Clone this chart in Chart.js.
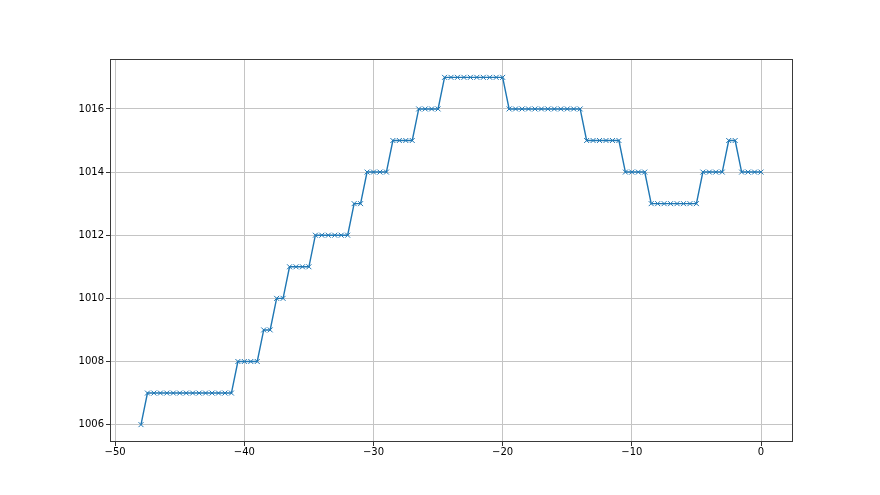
<!DOCTYPE html>
<html>
<head>
<meta charset="utf-8">
<script src="https://cdn.jsdelivr.net/npm/chart.js@4"></script>
<style>
html,body{margin:0;padding:0;background:#fff;}
#wrap{width:880px;height:495px;position:relative;}
</style>
</head>
<body>
<div id="wrap"><canvas id="c" width="880" height="495"></canvas></div>
<script>
// step levels: [first x, last x, value], points every 0.5
const segStart = [-48, -47.5, -40.5, -38.5, -37.5, -36.5, -34.5, -31.5, -30.5, -28.5, -26.5, -24.5, -19.5, -13.5, -10.5, -8.5, -4.5, -2.5, -1.5];
const segEnd   = [-48, -41,   -39,   -38,   -37,   -35,   -32,   -31,   -29,   -27,   -25,   -20,   -14,   -11,   -9,    -5,   -3,   -2,   0];
const segValue = [1006, 1007, 1008, 1009, 1010, 1011, 1012, 1013, 1014, 1015, 1016, 1017, 1016, 1015, 1014, 1013, 1014, 1015, 1014];
const xTicks = [-50, -40, -30, -20, -10, 0];
const yTicks = [1006, 1008, 1010, 1012, 1014, 1016];

const points = [];
for (let i = 0; i < segStart.length; i++) {
  for (let x = segStart[i]; x <= segEnd[i] + 1e-9; x += 0.5) {
    points.push({x: x, y: segValue[i]});
  }
}

const frame = {
  id: 'frame',
  afterDraw(chart) {
    const a = chart.chartArea, ctx = chart.ctx;
    ctx.save();
    ctx.strokeStyle = '#3a3a3a';
    ctx.lineWidth = 1;
    ctx.strokeRect(Math.round(a.left) + 0.5, Math.round(a.top) - 0.5, Math.round(a.right - a.left), Math.round(a.bottom - a.top));
    ctx.restore();
  }
};

new Chart(document.getElementById('c'), {
  type: 'scatter',
  data: {
    datasets: [{
      data: points,
      showLine: true,
      borderColor: '#1f77b4',
      backgroundColor: '#1f77b4',
      borderWidth: 1.4,
      pointStyle: 'crossRot',
      pointRadius: 3.5,
      pointBorderWidth: 1,
      pointBorderColor: '#1f77b4',
      pointHoverRadius: 3.5,
      tension: 0
    }]
  },
  options: {
    responsive: false,
    animation: false,
    devicePixelRatio: 1,
    layout: {padding: {left: 50, top: 60, right: 88, bottom: 23}},
    plugins: {legend: {display: false}, tooltip: {enabled: false}},
    scales: {
      x: {
        type: 'linear', min: -50.4, max: 2.4,
        afterBuildTicks: s => { s.ticks = xTicks.map(v => ({value: v})); },
        afterFit: s => { s.height = 30; },
        grid: {color: '#c4c4c4', lineWidth: 1, tickColor: '#333', tickLength: 4, drawOnChartArea: true},
        border: {display: false},
        ticks: {color: '#000', font: {family: 'DejaVu Sans', size: 10}, padding: 0, maxRotation: 0,
          callback: v => (v < 0 ? '\u2212' + Math.abs(v) : String(v))}
      },
      y: {
        type: 'linear', min: 1005.45, max: 1017.55,
        afterBuildTicks: s => { s.ticks = yTicks.map(v => ({value: v})); },
        afterFit: s => { s.width = 60; },
        grid: {color: '#c4c4c4', lineWidth: 1, tickColor: '#333', tickLength: 4, drawOnChartArea: true},
        border: {display: false},
        ticks: {color: '#000', font: {family: 'DejaVu Sans', size: 10}, padding: 2,
          callback: v => String(v)}
      }
    }
  },
  plugins: [frame]
});
</script>
</body>
</html>
